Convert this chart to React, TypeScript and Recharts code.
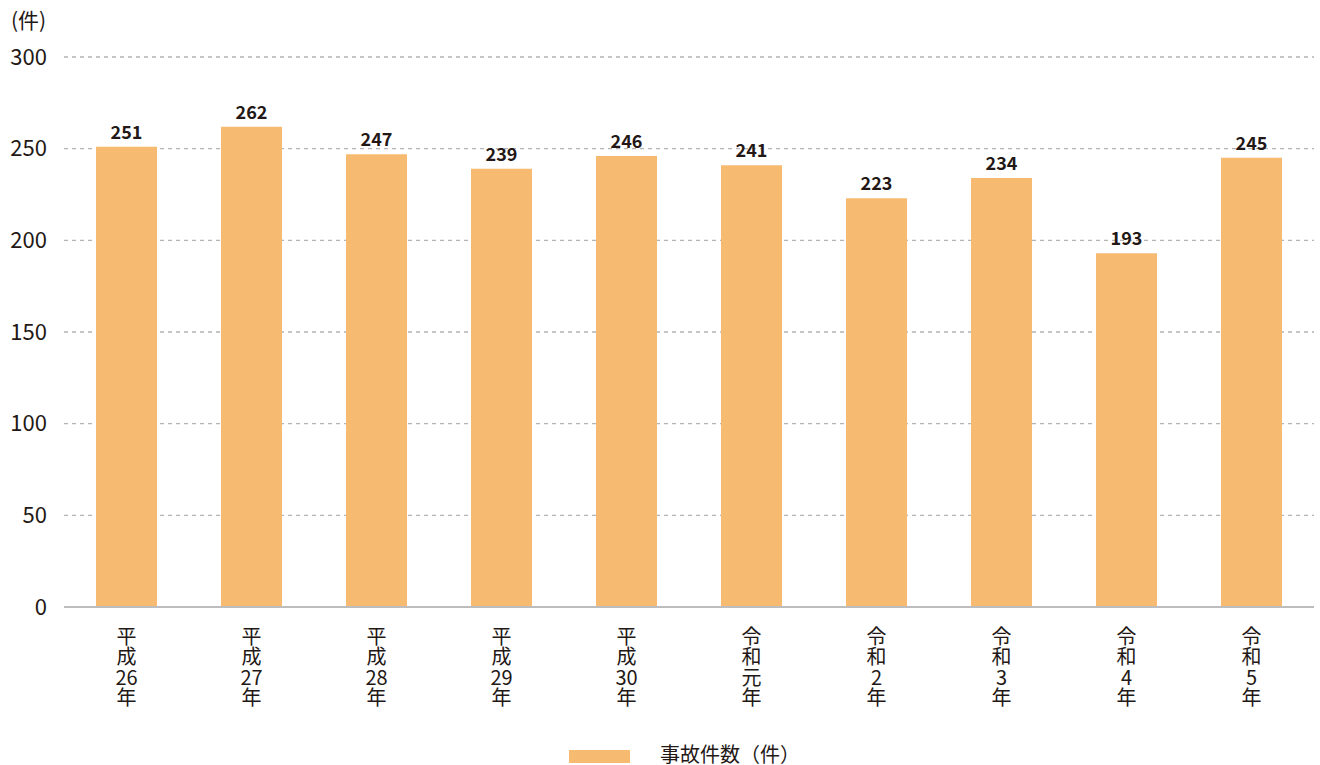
import React from "react";
import { BarChart, Bar, XAxis, YAxis, CartesianGrid, LabelList } from "recharts";

const categories = ["平成26年", "平成27年", "平成28年", "平成29年", "平成30年", "令和元年", "令和2年", "令和3年", "令和4年", "令和5年"];
const tickLines = [
  ["平", "成", "26", "年"],
  ["平", "成", "27", "年"],
  ["平", "成", "28", "年"],
  ["平", "成", "29", "年"],
  ["平", "成", "30", "年"],
  ["令", "和", "元", "年"],
  ["令", "和", "2", "年"],
  ["令", "和", "3", "年"],
  ["令", "和", "4", "年"],
  ["令", "和", "5", "年"],
];
const accidents = [251, 262, 247, 239, 246, 241, 223, 234, 193, 245];
const yTicks = [0, 50, 100, 150, 200, 250, 300];
const seriesName = "事故件数（件）";
const unitLabel = "(件)";

const data = categories.map((c, i) => ({ name: c, idx: i, value: accidents[i] }));

const FONT = "'Noto Sans CJK JP', 'Noto Sans', sans-serif";
const TEXT = "#231815";
const BAR = "#F6BB70";

const XTick = (props: any) => {
  const { x, y, payload } = props;
  const lines = tickLines[payload.index] || [String(payload.value)];
  return (
    <text x={x} y={y + 29} textAnchor="middle" fontSize={20} fill={TEXT} fontFamily={FONT}>
      {lines.map((l: string, i: number) => (
        <tspan key={i} x={x} dy={i === 0 ? 0 : 20.3}>
          {l}
        </tspan>
      ))}
    </text>
  );
};

export default function App() {
  return (
    <div style={{ position: "absolute", left: 0, top: 0, width: 1320, height: 765, background: "#fff", fontFamily: FONT, overflow: "hidden" }}>
      <BarChart
        width={1320}
        height={765}
        data={data}
        margin={{ top: 57, right: 6, bottom: 28, left: 0 }}
      >
        <CartesianGrid vertical={false} stroke="#b4b4b4" strokeDasharray="4 4" strokeWidth={1.3} />
        <XAxis
          dataKey="name"
          tick={<XTick />}
          tickLine={false}
          axisLine={{ stroke: "#bdbdbd", strokeWidth: 2 }}
          height={130}
          interval={0}
        />
        <YAxis
          domain={[0, 300]}
          ticks={yTicks}
          width={64}
          axisLine={false}
          tickLine={false}
          tickSize={0}
          tickMargin={17}
          tick={{ fontSize: 22, fill: TEXT, fontFamily: FONT }}
        />
        <Bar dataKey="value" fill={BAR} barSize={61} isAnimationActive={false} name={seriesName}>
          <LabelList
            dataKey="value"
            position="top"
            offset={8}
            fill={TEXT}
            fontSize={18}
            fontWeight={700}
            fontFamily={FONT}
          />
        </Bar>
      </BarChart>
      <div style={{ position: "absolute", left: 11, top: 6, fontSize: 21, color: TEXT, lineHeight: "26px" }}>{unitLabel}</div>
      <div style={{ position: "absolute", left: 569, top: 750, width: 61, height: 13, background: BAR }} />
      <div style={{ position: "absolute", left: 660, top: 744, fontSize: 20, color: TEXT, lineHeight: "20px", whiteSpace: "nowrap" }}>{seriesName}</div>
    </div>
  );
}
